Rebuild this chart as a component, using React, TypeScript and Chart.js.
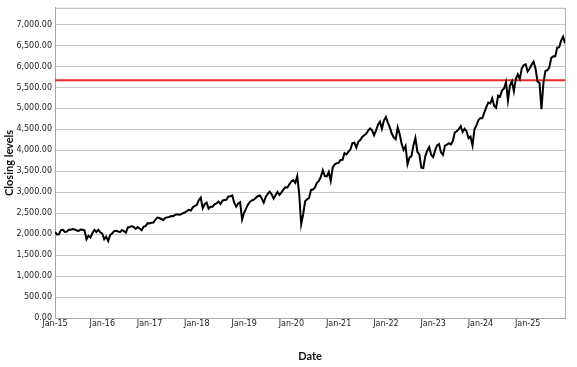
import { useEffect, useRef } from "react";
import Chart from "chart.js/auto";

// Semi-monthly closing levels (1st and 15th of each month), by year
const years = [2015, 2016, 2017, 2018, 2019, 2020, 2021, 2022, 2023, 2024, 2025];
const close2015 = [2058, 1992, 1995, 2097, 2105, 2053, 2060, 2106, 2108, 2122, 2112, 2085, 2077, 2108, 2104, 2092, 1880, 1960, 1920, 2023, 2104, 2053, 2102, 2043];
const close2016 = [2012, 1880, 1940, 1835, 1978, 2016, 2072, 2080, 2065, 2047, 2099, 2071, 2036, 2161, 2170, 2190, 2170, 2125, 2168, 2133, 2095, 2180, 2191, 2262];
const close2017 = [2257, 2271, 2279, 2349, 2395, 2385, 2362, 2338, 2388, 2400, 2411, 2433, 2429, 2459, 2476, 2465, 2476, 2500, 2519, 2553, 2579, 2565, 2642, 2675];
const close2018 = [2695, 2810, 2870, 2620, 2715, 2750, 2610, 2656, 2655, 2711, 2734, 2780, 2718, 2798, 2813, 2818, 2901, 2904, 2924, 2750, 2656, 2730, 2760, 2351];
const close2019 = [2510, 2610, 2706, 2775, 2803, 2822, 2867, 2907, 2924, 2850, 2752, 2886, 2964, 3014, 2953, 2847, 2926, 3007, 2940, 2995, 3066, 3120, 3113, 3191];
const close2020 = [3258, 3289, 3225, 3380, 2954, 2237, 2470, 2783, 2830, 2863, 3055, 3066, 3115, 3226, 3271, 3372, 3526, 3385, 3380, 3483, 3270, 3585, 3662, 3694];
const close2021 = [3700, 3768, 3774, 3934, 3901, 3968, 4019, 4170, 4181, 4063, 4202, 4246, 4320, 4360, 4395, 4468, 4524, 4480, 4357, 4471, 4613, 4683, 4513, 4709];
const close2022 = [4796, 4662, 4546, 4401, 4306, 4262, 4545, 4392, 4155, 4008, 4101, 3667, 3825, 3863, 4118, 4297, 3966, 3901, 3585, 3577, 3856, 3992, 4076, 3895];
const close2023 = [3839, 3999, 4119, 4147, 3951, 3892, 4109, 4137, 4168, 4136, 4221, 4425, 4455, 4505, 4576, 4437, 4515, 4450, 4288, 4327, 4117, 4502, 4594, 4719];
const close2024 = [4770, 4766, 4906, 5029, 5137, 5117, 5243, 5061, 5018, 5308, 5283, 5431, 5475, 5631, 5186, 5543, 5648, 5408, 5708, 5815, 5705, 5949, 6032, 6051];
const close2025 = [5882, 5950, 6040, 6115, 5955, 5639, 5611, 4983, 5604, 5892, 5911, 5977, 6205, 6243, 6238, 6449, 6460, 6615, 6711, 6552];
const closesByYear = [close2015, close2016, close2017, close2018, close2019, close2020, close2021, close2022, close2023, close2024, close2025];

const referenceLevel = 5670;
const xMin = 2015;
const xMax = 2025.79;
const yTicksStep = 500;
const yMax = 7400;

export default function App() {
  const ref = useRef<HTMLCanvasElement | null>(null);

  useEffect(() => {
    if (!ref.current) return;
    const points: { x: number; y: number }[] = [];
    closesByYear.forEach((arr, yi) => {
      arr.forEach((v, i) => points.push({ x: years[yi] + i / 24, y: v }));
    });

    const borderPlugin = {
      id: "plotBorder",
      beforeDatasetsDraw(chart: any) {
        const { ctx, chartArea } = chart;
        ctx.save();
        ctx.strokeStyle = "#b4b4b4";
        ctx.lineWidth = 1;
        ctx.beginPath();
        ctx.moveTo(chartArea.left, chartArea.top + 0.5);
        ctx.lineTo(chartArea.right + 0.5, chartArea.top + 0.5);
        ctx.lineTo(chartArea.right + 0.5, chartArea.bottom);
        ctx.stroke();
        ctx.restore();
      },
    };

    const chart = new Chart(ref.current, {
      type: "line",
      data: {
        datasets: [
          {
            data: points,
            borderColor: "#000000",
            borderWidth: 2,
            pointRadius: 0,
            tension: 0,
          },
          {
            data: [
              { x: xMin, y: referenceLevel },
              { x: xMax, y: referenceLevel },
            ],
            borderColor: "#e8262b",
            borderWidth: 2,
            pointRadius: 0,
          },
        ],
      },
      options: {
        animation: false,
        responsive: false,
        parsing: false as any,
        layout: { padding: { top: 3, right: 12, left: 0, bottom: 0 } },
        plugins: { legend: { display: false }, tooltip: { enabled: false } },
        scales: {
          x: {
            type: "linear",
            min: xMin,
            max: xMax,
            afterBuildTicks: (scale: any) => {
              scale.ticks = years.map((y) => ({ value: y }));
            },
            afterFit: (scale: any) => {
              scale.height = 49;
            },
            ticks: {
              autoSkip: false,
              maxRotation: 0,
              padding: 1,
              color: "#222",
              font: { family: "DejaVu Sans", size: 8 },
              callback: (v: any) => "Jan-" + String(v).slice(2),
            },
            grid: { display: false, drawTicks: false },
            border: { display: true, color: "#a8a8a8", width: 1 },
            title: {
              display: true,
              text: "Date",
              color: "#111",
              font: { family: "Lato", size: 11, weight: "bold" },
              padding: { top: 0, bottom: 4 },
            },
          },
          y: {
            type: "linear",
            min: 0,
            max: yMax,
            afterBuildTicks: (scale: any) => {
              const t = [];
              for (let v = 0; v <= 7000; v += yTicksStep) t.push({ value: v });
              scale.ticks = t;
            },
            afterFit: (scale: any) => {
              scale.width = 55;
            },
            ticks: {
              padding: 3,
              color: "#222",
              font: { family: "DejaVu Sans", size: 8 },
              callback: (v: any) =>
                Number(v).toLocaleString("en-US", { minimumFractionDigits: 2, maximumFractionDigits: 2 }),
            },
            grid: { color: "#c8c8c8", drawTicks: false, lineWidth: 1 },
            border: { display: true, color: "#a8a8a8", width: 1 },
            title: {
              display: true,
              text: "Closing levels",
              color: "#111",
              font: { family: "Lato", size: 11, weight: "bold" },
              padding: { top: 3, bottom: 0 },
            },
          },
        },
      },
      plugins: [borderPlugin],
    });
    return () => chart.destroy();
  }, []);

  return (
    <div style={{ position: "absolute", left: 0, top: 0, width: 577, height: 367, background: "#fff" }}>
      <canvas ref={ref} width={577} height={367} style={{ display: "block" }} />
    </div>
  );
}
